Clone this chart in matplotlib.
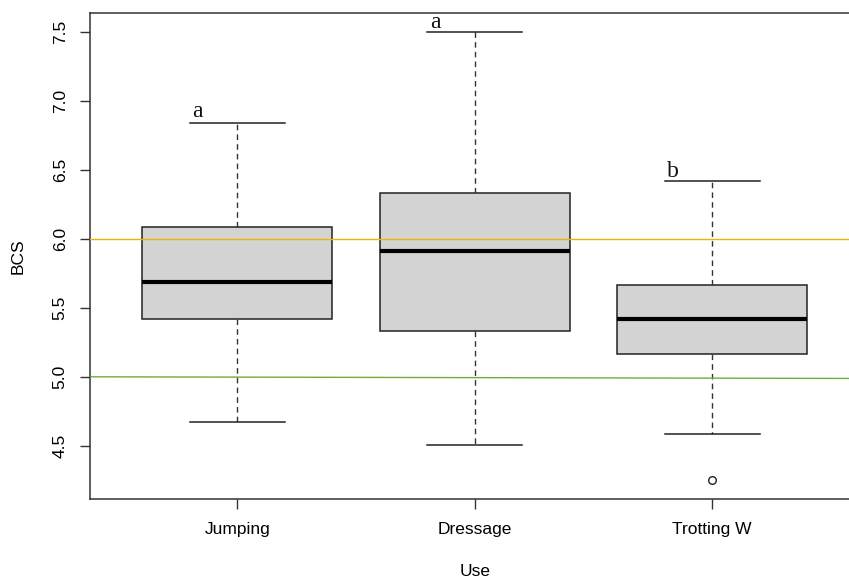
import matplotlib
matplotlib.use('Agg')
import matplotlib.pyplot as plt
import numpy as np

plt.rcParams['font.family'] = ['Liberation Sans', 'DejaVu Sans']

groups = ['Jumping', 'Dressage', 'Trotting W']
whislo = [4.672, 4.505, 4.585]
q1 = [5.419, 5.332, 5.165]
med = [5.687, 5.914, 5.419]
q3 = [6.088, 6.335, 5.665]
whishi = [6.840, 7.500, 6.420]
fliers = [[], [], [4.251]]
letters = ['a', 'a', 'b']
letter_y = [6.885, 7.530, 6.448]
ref_high = 6.0
ref_low = (5.0, 4.988)

stats = []
for i in range(3):
    stats.append(dict(label=groups[i], whislo=whislo[i], q1=q1[i], med=med[i],
                      q3=q3[i], whishi=whishi[i], fliers=fliers[i]))

fig = plt.figure(figsize=(8.49, 5.81), dpi=100)
ax = fig.add_axes([90/849, 1 - 498.7/581, 1 - 90/849, (498.7 - 13)/581])

pos = np.arange(1, 4)
ax.bxp(stats, positions=pos, widths=0.8, capwidths=0.4, patch_artist=True,
       boxprops=dict(facecolor='#d3d3d3', edgecolor='#222222', linewidth=1.1),
       medianprops=dict(color='black', linewidth=3),
       whiskerprops=dict(color='#333333', linestyle=(0, (4, 3)), linewidth=1),
       capprops=dict(color='#222222', linewidth=1.1),
       flierprops=dict(marker='o', markersize=5.5, markerfacecolor='white',
                       markeredgecolor='#222222', markeredgewidth=1),
       zorder=2)

x0, x1 = 0.38, 0.38 + (849 - 90) / 237.5
ax.plot([x0, x1], [ref_high, ref_high], color='#f2b20c', linewidth=1, zorder=3)
ax.plot([x0, x1], list(ref_low), color='#6aae3c', linewidth=1, zorder=3)

for i in range(3):
    ax.text(pos[i] - 0.166, letter_y[i], letters[i], ha='center', va='baseline',
            fontsize=17, family=['Liberation Serif', 'DejaVu Serif'], color='#111111')

ax.set_xlim(x0, x1)
ax.set_ylim(4.116, 7.638)
ax.set_xticks(pos)
ax.set_xticklabels(groups, fontsize=12.5)
ax.set_yticks([4.5, 5.0, 5.5, 6.0, 6.5, 7.0, 7.5])
ax.set_yticklabels(['4.5', '5.0', '5.5', '6.0', '6.5', '7.0', '7.5'],
                   fontsize=12.5, rotation=90, va='center')
ax.tick_params(axis='both', length=7, width=1, color='#333333')
ax.tick_params(axis='x', pad=10)
ax.tick_params(axis='y', pad=9)
ax.spines['right'].set_visible(False)
for s in ['left', 'bottom', 'top']:
    ax.spines[s].set_color('#333333')
    ax.spines[s].set_linewidth(1.1)

fig.text(18/849, 1 - 256/581, 'BCS', rotation=90, ha='center', va='center', fontsize=12.5)
fig.text(475/849, 1 - 572/581, 'Use', ha='center', va='center', fontsize=12.5)

fig.savefig('out.png', dpi=100)
